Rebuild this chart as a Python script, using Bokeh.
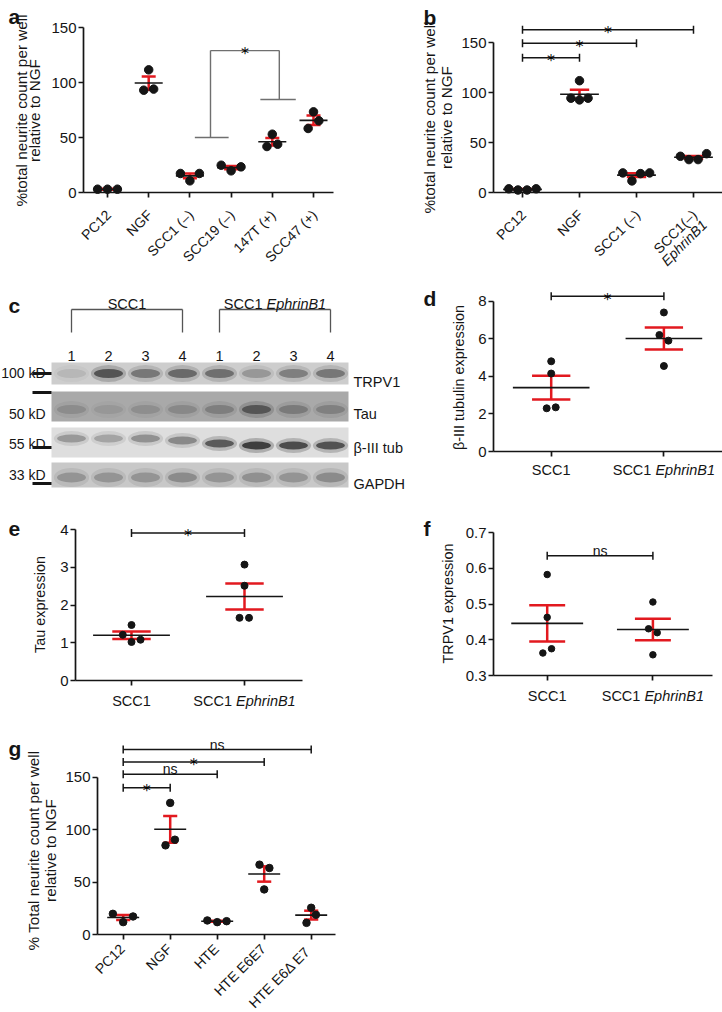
import math
from bokeh.plotting import figure
from bokeh.models import Range1d, FixedTicker, Label
from bokeh.layouts import row, column
from bokeh.embed import file_html
from bokeh.resources import INLINE

FONT = "Liberation Sans"
INK = "#151515"
RED = "#e2191f"
GREY = "#6f6f6f"

# ===================== data =====================
# panel a
a_cats = ["PC12", "NGF", "SCC1 (\u2013)", "SCC19 (\u2013)", "147T (+)", "SCC47 (+)"]
a_pts = [[3.0, 3.0, 3.0], [111.5, 93.0, 94.0], [17.3, 10.6, 17.3],
         [24.8, 19.7, 23.3], [53.0, 41.8, 43.9], [73.3, 58.2, 65.2]]
a_jit = [[-0.24, 0.0, 0.24], [0.0, -0.12, 0.12], [-0.23, 0.0, 0.23],
         [-0.24, 0.0, 0.24], [0.0, -0.13, 0.13], [0.0, -0.13, 0.13]]
a_mean = [3.0, 99.5, 15.1, 22.6, 46.2, 65.6]
a_sem = [0.4, 6.0, 2.2, 1.5, 3.4, 4.3]

# panel b
b_cats = ["PC12", "NGF", "SCC1 (\u2013)", "SCC1(\u2013)"]
b_cat4_second = "EphrinB1"
b_pts = [[3.7, 2.5, 2.5, 3.7], [111.8, 94.3, 92.6, 94.3],
         [19.6, 11.6, 18.9, 19.6], [36.2, 32.9, 32.9, 38.8]]
b_jit = [[-0.24, -0.08, 0.08, 0.24], [0.0, -0.15, 0.0, 0.15],
         [-0.24, -0.08, 0.07, 0.23], [-0.23, -0.08, 0.08, 0.23]]
b_mean = [3.1, 98.3, 17.4, 35.2]
b_sem = [0.4, 4.5, 1.95, 1.4]
b_sig = [(0, 1, 134.7, "*"), (0, 2, 149.3, "*"), (0, 3, 162.7, "*")]

# panel c (western blot)
lane_nums = ["1", "2", "3", "4", "1", "2", "3", "4"]
blot_groups = ["SCC1", "SCC1", "EphrinB1"]
markers = ["100 kD", "50 kD", "55 kD", "33 kD"]
proteins = ["TRPV1", "Tau", "\u03b2-III tub", "GAPDH"]
trpv1_band = [0.12, 0.75, 0.5, 0.6, 0.55, 0.3, 0.45, 0.5]
tau_band = [0.2, 0.12, 0.18, 0.22, 0.3, 0.62, 0.32, 0.28]
tub_band = [0.35, 0.3, 0.4, 0.45, 0.75, 0.95, 0.85, 0.8]
gapdh_band = [0.3, 0.3, 0.3, 0.35, 0.3, 0.32, 0.3, 0.35]

# panels d, e, f
expr_groups = ["SCC1", "SCC1", "EphrinB1"]
d_pts = [[4.8, 4.15, 2.3, 2.35], [7.4, 6.2, 5.9, 4.55]]
d_jit = [[0.0, 0.0, -0.04, 0.04], [0.0, -0.04, 0.04, 0.0]]
d_mean = [3.4, 6.01]
d_sem = [0.635, 0.585]

e_pts = [[1.47, 1.21, 1.02, 1.08], [3.07, 2.51, 1.66, 1.66]]
e_jit = [[0.0, -0.077, 0.0, 0.08], [0.0, 0.0, -0.044, 0.04]]
e_mean = [1.2, 2.225]
e_sem = [0.1, 0.346]

f_pts = [[0.583, 0.463, 0.363, 0.375], [0.506, 0.431, 0.42, 0.358]]
f_jit = [[0.0, 0.0, -0.041, 0.041], [0.0, -0.041, 0.041, 0.0]]
f_mean = [0.446, 0.429]
f_sem = [0.051, 0.030]

# panel g
g_cats = ["PC12", "NGF", "HTE", "HTE E6E7", "HTE  E6\u0394 E7"]
g_pts = [[19.7, 11.8, 17.2], [125.5, 85.0, 90.4], [13.4, 11.8, 12.7],
         [66.6, 63.4, 43.0], [25.5, 18.8, 11.1]]
g_jit = [[-0.22, 0.0, 0.21], [0.0, -0.1, 0.1], [-0.21, 0.0, 0.2],
         [-0.1, 0.11, 0.0], [0.0, 0.1, -0.1]]
g_mean = [16.2, 100.3, 12.6, 57.7, 18.5]
g_sem = [2.3, 12.7, 0.5, 7.3, 4.2]
g_sig = [(0, 1, 140.0, "*"), (0, 2, 152.9, "ns"), (0, 3, 164.6, "*"), (0, 4, 176.4, "ns")]


# ===================== helpers =====================
class Panel:
    """Figure whose frame fills its whole box; axes are drawn at fixed locations."""

    def __init__(self, box, xmap, ymap, axes=True):
        ox, oy, w, h = box
        self.t0, self.sp = xmap              # px of category 0, px per category
        self.y0px, self.ys, self.y0v = ymap  # px of value y0v, px per unit
        xr = (self.X(ox), self.X(ox + w))
        yr = (self.Y(oy + h), self.Y(oy))
        kw = dict(width=w, height=h, x_range=Range1d(*xr), y_range=Range1d(*yr),
                  output_backend="svg", toolbar_location=None, min_border=0,
                  min_border_left=0, min_border_right=0, min_border_top=0, min_border_bottom=0)
        if not axes:
            kw.update(x_axis_location=None, y_axis_location=None)
        p = figure(**kw)
        p.outline_line_color = None
        p.xgrid.visible = False
        p.ygrid.visible = False
        self.p = p

    def X(self, px):
        return (px - self.t0) / self.sp

    def Y(self, py):
        return self.y0v + (self.y0px - py) / self.ys

    def upx(self):
        return 1.0 / abs(self.ys)


def text(P, x, y, s, size="15px", align="left", baseline="alphabetic", style="normal",
         angle=0.0, xo=0.0, yo=0.0, color=INK, font=FONT):
    P.p.add_layout(Label(x=x, y=y, text=s, text_font=font, text_font_size=size,
                         text_align=align, text_baseline=baseline, text_font_style=style,
                         angle=angle, x_offset=xo, y_offset=yo, text_color=color))


def ptext(P, px, py, s, **kw):
    text(P, P.X(px), P.Y(py), s, **kw)


def style_axes(P, n, yaxis_px, xend_px, yticks, ybounds, tsize="15px"):
    p = P.p
    xa, ya = p.xaxis[0], p.yaxis[0]
    for ax in (xa, ya):
        ax.axis_line_color = INK
        ax.axis_line_width = 1.7
        ax.major_tick_line_color = INK
        ax.major_tick_line_width = 1.7
        ax.major_tick_in = 0
        ax.major_tick_out = 5
        ax.minor_tick_line_color = None
        ax.major_label_text_font = FONT
        ax.major_label_text_font_size = tsize
        ax.major_label_text_color = INK
    xa.ticker = FixedTicker(ticks=list(range(n)))
    xa.major_label_overrides = {i: "" for i in range(n)}
    xa.fixed_location = P.y0v
    xa.bounds = (P.X(yaxis_px), P.X(xend_px))
    ya.ticker = FixedTicker(ticks=yticks)
    ya.bounds = ybounds
    ya.fixed_location = P.X(yaxis_px)
    ya.major_label_standoff = 2


def ylabel(P, lines, xs_px, yc_px, size):
    for s, xp in zip(lines, xs_px):
        ptext(P, xp, yc_px, s, size=size, align="center", baseline="middle", angle=math.pi / 2)


def draw_stats(P, pts, jit, mean, sem, dot, mhw=0.34, chw=0.17, rw=2.5):
    p = P.p
    xs, ys = [], []
    for i, (vals, js) in enumerate(zip(pts, jit)):
        for v, j in zip(vals, js):
            xs.append(i + j)
            ys.append(v)
    idx = list(range(len(mean)))
    lo = [m - s for m, s in zip(mean, sem)]
    hi = [m + s for m, s in zip(mean, sem)]
    p.segment(x0=idx, y0=lo, x1=idx, y1=hi, line_color=RED, line_width=rw)
    p.segment(x0=[i - chw for i in idx], y0=hi, x1=[i + chw for i in idx], y1=hi,
              line_color=RED, line_width=rw)
    p.segment(x0=[i - chw for i in idx], y0=lo, x1=[i + chw for i in idx], y1=lo,
              line_color=RED, line_width=rw)
    p.segment(x0=[i - mhw for i in idx], y0=mean, x1=[i + mhw for i in idx], y1=mean,
              line_color=INK, line_width=1.6)
    p.scatter(xs, ys, size=dot, color=INK, line_color=INK)


def sig_text(P, x, y, s):
    if s == "*":
        text(P, x, y, s, size="16px", align="center", yo=-3.0, font="DejaVu Sans", color="#000000")
    else:
        text(P, x, y, s, size="14px", align="center", yo=5.0)


def bracket(P, x0, x1, y, s, tick_px=4.0, color=INK):
    t = tick_px * P.upx()
    P.p.segment(x0=[x0, x0, x1], y0=[y, y - t, y - t], x1=[x1, x0, x1], y1=[y, y + t, y + t],
                line_color=color, line_width=1.5)
    sig_text(P, (x0 + x1) / 2.0, y, s)


def rot_ticks(P, names, dx, dy, size):
    for i, nm in enumerate(names):
        text(P, i, P.y0v, nm, size=size, align="right", baseline="middle",
             angle=math.pi / 4, xo=dx, yo=-dy)


def expr_ticks(P, dy, size_px):
    sz = "%gpx" % size_px
    y0 = P.y0v
    text(P, 0, y0, expr_groups[0], size=sz, align="center", yo=-dy)
    text(P, 1, y0, expr_groups[1], size=sz, align="right", xo=-0.862 * size_px, yo=-dy)
    text(P, 1, y0, expr_groups[2], size=sz, align="left", style="italic",
         xo=-0.584 * size_px, yo=-dy)


NEURITE = ["%total neurite count per well", "relative to NGF"]

# ===================== panel a =====================
A = Panel((0, 0, 360, 270), (107, 41.2), (192, 1.1, 0))
style_axes(A, len(a_cats), 83, 333, [0, 50, 100, 150], (0, 150))
ylabel(A, NEURITE, [21, 34], 110, "15.3px")
draw_stats(A, a_pts, a_jit, a_mean, a_sem, 8.5)
rot_ticks(A, a_cats, 1, 20, "14px")
A.p.segment(x0=[2.12, 2.5, 2.5, 4.17, 3.71], y0=[50, 50, 129, 129, 84.5],
            x1=[2.94, 2.5, 4.17, 4.17, 4.57], y1=[50, 129, 129, 84.5, 84.5],
            line_color=GREY, line_width=1.4)
sig_text(A, 3.34, 129, "*")
ptext(A, 8, 16, "a", size="21px", style="bold")

# ===================== panel b =====================
B = Panel((360, 0, 362, 270), (522, 57.0), (192, 1.0, 0))
style_axes(B, len(b_cats), 493, 722, [0, 50, 100, 150], (0, 150))
ylabel(B, NEURITE, [429, 446], 117, "15.3px")
draw_stats(B, b_pts, b_jit, b_mean, b_sem, 8.5)
rot_ticks(B, b_cats, 1, 20, "14px")
text(B, 3, 0.0, b_cat4_second, size="14px", align="right", baseline="middle",
     style="italic", angle=math.pi / 4, xo=1 + 9.9, yo=-20 - 9.9)
for x0, x1, y, s in b_sig:
    bracket(B, x0, x1, y, s)
ptext(B, 423, 17, "b", size="21px", style="bold")

# ===================== panel c (blot) =====================
C = Panel((0, 270, 410, 230), (34, 37.0), (0, -1.0, 0), axes=False)
lanes = list(range(1, 9))
strip_box = [(362, 384, "#cdcdcd"), (391, 421, "#a9a9a9"), (427, 457, "#dedede"), (462, 487, "#c8c8c8")]
band_y = [[373] * 8, [409] * 8, [438, 438, 438, 440, 443, 445, 445, 445], [477] * 8]
band_h = [9, 9, 8, 10]
bands = [trpv1_band, tau_band, tub_band, gapdh_band]
for (top, bot, col), ys, h, ints in zip(strip_box, band_y, band_h, bands):
    C.p.quad(left=[C.X(51)], right=[C.X(348)], top=[top], bottom=[bot], fill_color=col, line_color=None)
    C.p.ellipse(x=lanes, y=ys, width=0.95, height=h * 1.9, fill_color="#111111",
                fill_alpha=[v * 0.25 for v in ints], line_color=None)
    C.p.ellipse(x=lanes, y=ys, width=0.78, height=h, fill_color="#111111",
                fill_alpha=[v * 0.75 for v in ints], line_color=None)
mark_y = [373, 392, 447, 483]
mark_base = [372, 413, 443, 474]
C.p.segment(x0=[C.X(32)] * 4, x1=[C.X(51)] * 4, y0=mark_y, y1=mark_y, line_color=INK, line_width=3)
for s, yb in zip(markers, mark_base):
    ptext(C, 45, yb, s, size="14px", align="right")
for s, yb in zip(proteins, [381, 413, 447, 483]):
    ptext(C, 353, yb, s, size="14.5px", align="left")
for ln, s in zip(lanes, lane_nums):
    text(C, ln, 355, s, size="14.5px", align="center")
C.p.segment(x0=[1, 1, 4, 5, 5, 8], y0=[309, 309, 309, 309, 309, 309],
            x1=[4, 1, 4, 8, 5, 8], y1=[309, 332, 332, 309, 332, 332],
            line_color="#555555", line_width=1.3)
text(C, 2.5, 303, blot_groups[0], size="14.5px", align="center")
text(C, 6.5, 303, blot_groups[1], size="14.5px", align="right", xo=-0.862 * 14.5)
text(C, 6.5, 303, blot_groups[2], size="14.5px", align="left", style="italic", xo=-0.584 * 14.5)
ptext(C, 8, 305, "c", size="21px", style="bold")

# ===================== panel d =====================
D = Panel((410, 270, 312, 230), (550.7, 112.7), (451, 18.79, 0))
style_axes(D, 2, 493, 722, [0, 2, 4, 6, 8], (0, 8))
ylabel(D, ["\u03b2-III tubulin expression"], [458], 377, "14.4px")
draw_stats(D, d_pts, d_jit, d_mean, d_sem, 7)
expr_ticks(D, 18, 14.5)
bracket(D, 0, 1, 8.26, "*")
ptext(D, 423, 298, "d", size="21px", style="bold")

# ===================== panel e =====================
E = Panel((0, 500, 360, 215), (131, 113.0), (680, 37.75, 0))
style_axes(E, 2, 75, 302, [0, 1, 2, 3, 4], (0, 4))
ylabel(E, ["Tau expression"], [39], 604, "14.4px")
draw_stats(E, e_pts, e_jit, e_mean, e_sem, 7)
expr_ticks(E, 20, 14.5)
bracket(E, 0, 1, 3.91, "*")
ptext(E, 8, 528, "e", size="21px", style="bold")

# ===================== panel f =====================
F = Panel((360, 500, 362, 215), (546.7, 105.7), (675, 356.75, 0.3))
style_axes(F, 2, 493, 712, [0.3, 0.4, 0.5, 0.6, 0.7], (0.3, 0.7))
ylabel(F, ["TRPV1 expression"], [447], 603, "14.4px")
draw_stats(F, f_pts, f_jit, f_mean, f_sem, 6.5)
expr_ticks(F, 20, 14.5)
bracket(F, 0, 1, 0.636, "ns")
ptext(F, 423, 528, "f", size="21px", style="bold")

# ===================== panel g =====================
G = Panel((0, 715, 360, 297), (122.7, 47.0), (934, 1.0487, 0))
style_axes(G, len(g_cats), 97, 335, [0, 50, 100, 150], (0, 150))
ylabel(G, ["% Total neurite count per well", "relative to NGF"], [33, 50], 850, "15.3px")
draw_stats(G, g_pts, g_jit, g_mean, g_sem, 7.5, chw=0.15)
rot_ticks(G, g_cats, -1, 12, "14px")
for x0, x1, y, s in g_sig:
    bracket(G, x0, x1, y, s)
ptext(G, 8, 748, "g", size="21px", style="bold")

layout = column(row(A.p, B.p), row(C.p, D.p), row(E.p, F.p), G.p)
open("out.html", "w").write(file_html(layout, INLINE))
